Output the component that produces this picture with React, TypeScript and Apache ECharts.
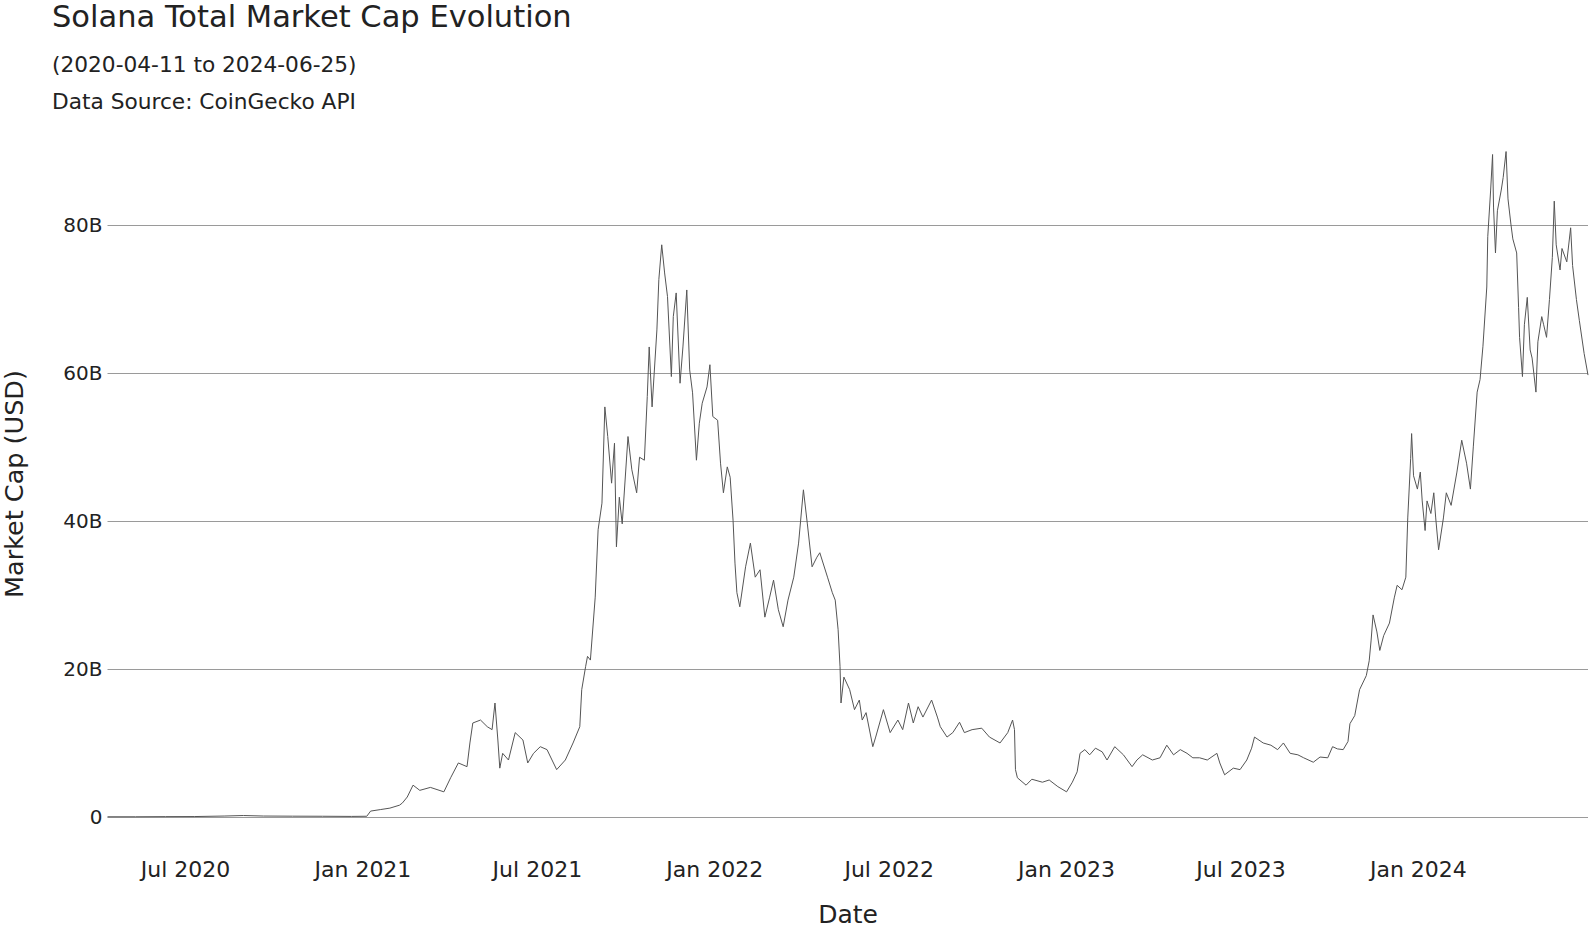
import React, { useEffect, useRef } from "react";
import * as echarts from "echarts";

const dates: string[] = [
  "2020-04-11","2020-05-10","2020-06-10","2020-07-10","2020-08-10","2020-08-30","2020-09-20","2020-10-20","2020-11-20","2020-12-20",
  "2021-01-05","2021-01-09","2021-01-19","2021-01-29","2021-02-08","2021-02-11","2021-02-16","2021-02-22","2021-03-01","2021-03-12",
  "2021-03-26","2021-04-02","2021-04-10","2021-04-19","2021-04-22","2021-04-25","2021-05-03","2021-05-10","2021-05-15","2021-05-18",
  "2021-05-21","2021-05-23","2021-05-26","2021-06-01","2021-06-08","2021-06-16","2021-06-21","2021-06-27","2021-07-04","2021-07-11",
  "2021-07-21","2021-07-30","2021-08-07","2021-08-14","2021-08-16","2021-08-20","2021-08-22","2021-08-25","2021-08-30","2021-09-02",
  "2021-09-06","2021-09-09","2021-09-12","2021-09-16","2021-09-19","2021-09-21","2021-09-24","2021-09-27","2021-10-03","2021-10-07",
  "2021-10-12","2021-10-15","2021-10-20","2021-10-23","2021-10-25","2021-10-28","2021-11-02","2021-11-04","2021-11-07","2021-11-10",
  "2021-11-13","2021-11-17","2021-11-19","2021-11-22","2021-11-26","2021-11-29","2021-12-03","2021-12-06","2021-12-09","2021-12-13",
  "2021-12-16","2021-12-19","2021-12-24","2021-12-27","2021-12-30","2022-01-04","2022-01-07","2022-01-10","2022-01-14","2022-01-17",
  "2022-01-20","2022-01-22","2022-01-24","2022-01-27","2022-02-02","2022-02-07","2022-02-12","2022-02-17","2022-02-22","2022-02-27",
  "2022-03-03","2022-03-08","2022-03-13","2022-03-18","2022-03-24","2022-03-29","2022-04-03","2022-04-07","2022-04-12","2022-04-17",
  "2022-04-20","2022-04-28","2022-05-03","2022-05-06","2022-05-09","2022-05-11","2022-05-12","2022-05-15","2022-05-21","2022-05-26",
  "2022-05-31","2022-06-03","2022-06-07","2022-06-14","2022-06-17","2022-06-25","2022-07-02","2022-07-10","2022-07-15","2022-07-21",
  "2022-07-26","2022-07-31","2022-08-05","2022-08-14","2022-08-20","2022-08-23","2022-08-30","2022-09-05","2022-09-12","2022-09-17",
  "2022-09-25","2022-10-05","2022-10-13","2022-10-24","2022-11-01","2022-11-06","2022-11-08","2022-11-09","2022-11-11","2022-11-20",
  "2022-11-26","2022-12-07","2022-12-14","2022-12-23","2023-01-01","2023-01-07","2023-01-12","2023-01-15","2023-01-20","2023-01-25",
  "2023-01-31","2023-02-07","2023-02-12","2023-02-20","2023-03-01","2023-03-10","2023-03-15","2023-03-21","2023-03-31","2023-04-08",
  "2023-04-15","2023-04-22","2023-04-29","2023-05-06","2023-05-12","2023-05-19","2023-05-27","2023-06-06","2023-06-09","2023-06-14",
  "2023-06-23","2023-06-30","2023-07-07","2023-07-12","2023-07-15","2023-07-24","2023-08-01","2023-08-08","2023-08-14","2023-08-21",
  "2023-08-29","2023-09-04","2023-09-14","2023-09-21","2023-09-29","2023-10-04","2023-10-09","2023-10-15","2023-10-20","2023-10-22",
  "2023-10-27","2023-11-01","2023-11-08","2023-11-11","2023-11-13","2023-11-15","2023-11-19","2023-11-22","2023-11-26","2023-12-02",
  "2023-12-07","2023-12-10","2023-12-15","2023-12-19","2023-12-21","2023-12-24","2023-12-25","2023-12-27","2023-12-31","2024-01-03",
  "2024-01-05","2024-01-08","2024-01-10","2024-01-14","2024-01-17","2024-01-19","2024-01-22","2024-01-27","2024-01-30","2024-02-04",
  "2024-02-10","2024-02-15","2024-02-20","2024-02-24","2024-02-27","2024-03-02","2024-03-05","2024-03-08","2024-03-12","2024-03-13",
  "2024-03-16","2024-03-18","2024-03-19","2024-03-21","2024-03-23","2024-03-27","2024-03-29","2024-04-01","2024-04-03","2024-04-06",
  "2024-04-08","2024-04-12","2024-04-14","2024-04-15","2024-04-18","2024-04-20","2024-04-23","2024-04-26","2024-04-28","2024-05-02",
  "2024-05-04","2024-05-08","2024-05-10","2024-05-13","2024-05-16","2024-05-19","2024-05-21","2024-05-23","2024-05-27","2024-05-29",
  "2024-06-03","2024-06-07","2024-06-09","2024-06-13","2024-06-16","2024-06-21","2024-06-25"
];

// Market cap in billions of USD
const marketCapB: number[] = [
  0.03,0.03,0.05,0.06,0.13,0.2,0.13,0.11,0.1,0.08,
  0.1,0.8,1.0,1.2,1.6,1.9,2.7,4.3,3.6,4.0,
  3.4,5.3,7.3,6.8,10.0,12.7,13.1,12.2,11.8,15.4,
  10.4,6.6,8.6,7.7,11.4,10.4,7.3,8.6,9.5,9.1,
  6.4,7.7,10.0,12.2,17.2,20.3,21.7,21.2,29.7,38.8,
  42.4,55.4,51.4,45.1,50.5,36.5,43.2,39.6,51.4,46.9,
  43.8,48.6,48.2,56.8,63.5,55.4,65.8,72.6,77.3,73.5,
  70.3,59.5,67.6,70.8,58.6,63.5,71.2,60.4,57.3,48.2,
  53.2,55.9,58.1,61.1,54.1,53.6,47.8,43.8,47.3,45.9,
  40.1,34.3,30.3,28.4,33.8,37.0,32.4,33.4,27.0,29.7,
  32.0,28.0,25.7,29.3,32.4,37.0,44.2,39.7,33.8,35.1,
  35.7,32.4,30.3,29.3,25.3,20.3,15.4,18.9,17.2,14.5,
  15.8,13.1,14.1,9.5,10.8,14.5,11.4,13.1,11.8,15.4,
  12.7,14.9,13.5,15.8,13.5,12.2,10.8,11.4,12.8,11.4,
  11.8,12.0,10.8,10.0,11.4,13.1,11.8,6.4,5.3,4.3,
  5.1,4.7,5.0,4.1,3.4,4.7,6.1,8.6,9.1,8.4,
  9.3,8.8,7.7,9.5,8.4,6.8,7.7,8.4,7.7,8.0,
  9.7,8.4,9.1,8.6,8.0,8.0,7.7,8.6,7.3,5.7,
  6.6,6.4,7.7,9.3,10.8,10.0,9.7,9.1,10.0,8.6,
  8.4,8.0,7.4,8.1,8.0,9.5,9.2,9.1,10.2,12.6,
  13.7,17.2,19.1,21.1,23.9,27.3,25.0,22.5,24.5,26.2,
  29.6,31.3,30.7,32.4,40.4,48.4,51.8,46.1,44.3,46.6,
  42.7,38.7,42.7,41.0,43.8,40.4,36.1,40.4,43.8,42.1,
  46.6,50.9,47.8,44.3,50.0,57.4,59.1,63.6,71.6,78.4,
  84.7,89.5,82.4,76.2,81.9,84.7,86.4,89.9,83.5,80.1,
  78.1,76.2,68.8,64.8,59.5,66.5,70.2,63.1,62.0,57.4,
  64.2,67.6,66.5,64.8,69.9,75.6,83.2,77.3,73.9,76.8,
  75.0,79.6,74.5,69.9,67.1,62.6,59.7
];

const tickDates: string[] = [
  "2020-07-01","2021-01-01","2021-07-01","2022-01-01",
  "2022-07-01","2023-01-01","2023-07-01","2024-01-01"
];
const tickLabels: string[] = [
  "Jul 2020","Jan 2021","Jul 2021","Jan 2022",
  "Jul 2022","Jan 2023","Jul 2023","Jan 2024"
];

const toTs = (s: string) => {
  const [y, m, d] = s.split("-").map(Number);
  return Date.UTC(y, m - 1, d);
};

const FONT = "'DejaVu Sans', Verdana, sans-serif";

export default function App() {
  const ref = useRef<HTMLDivElement>(null);
  useEffect(() => {
    if (!ref.current) return;
    const chart = echarts.init(ref.current, null, { renderer: "svg" });
    const data = dates.map((d, i) => [toTs(d), marketCapB[i] * 1e9]);
    const tickTs = tickDates.map(toTs);
    chart.setOption({
      animation: false,
      backgroundColor: "#ffffff",
      grid: { left: 107.5, right: 2, top: 136, bottom: 111 },
      xAxis: {
        type: "value",
        min: toTs(dates[0]),
        max: toTs(dates[dates.length - 1]),
        scale: true,
        axisLine: { show: false },
        axisTick: { show: false },
        splitLine: { show: false },
        axisLabel: {
          customValues: tickTs,
          margin: 41,
          fontFamily: FONT,
          fontSize: 22,
          color: "#222",
          formatter: (v: number) => {
            const i = tickTs.indexOf(v);
            return i >= 0 ? tickLabels[i] : "";
          },
        },
      },
      yAxis: {
        type: "value",
        min: 0,
        max: 92e9,
        interval: 20e9,
        axisLine: { show: false },
        axisTick: { show: false },
        splitLine: { show: true, showMaxLine: false, lineStyle: { color: "#9a9a9a", width: 1 } },
        axisLabel: {
          showMaxLabel: false,
          margin: 5,
          fontFamily: FONT,
          fontSize: 20,
          color: "#222",
          formatter: (v: number) => (v === 0 ? "0" : `${Math.round(v / 1e9)}B`),
        },
      },
      series: [
        {
          type: "line",
          data,
          showSymbol: false,
          symbol: "none",
          clip: false,
          lineStyle: { color: "#555", width: 1 },
        },
      ],
      graphic: [
        {
          type: "text",
          x: 52,
          y: 16.5,
          style: { text: "Solana Total Market Cap Evolution", font: `30.5px ${FONT}`, fill: "#222", textVerticalAlign: "middle" },
        },
        {
          type: "text",
          x: 52,
          y: 64,
          style: { text: "(2020-04-11 to 2024-06-25)", font: `21.7px ${FONT}`, fill: "#222", textVerticalAlign: "middle" },
        },
        {
          type: "text",
          x: 52,
          y: 101,
          style: { text: "Data Source: CoinGecko API", font: `21.7px ${FONT}`, fill: "#222", textVerticalAlign: "middle" },
        },
        {
          type: "text",
          x: 848,
          y: 914,
          style: { text: "Date", font: `25px ${FONT}`, fill: "#222", textAlign: "center", textVerticalAlign: "middle" },
        },
        {
          type: "text",
          x: 14,
          y: 484,
          rotation: Math.PI / 2,
          style: { text: "Market Cap (USD)", font: `25.5px ${FONT}`, fill: "#222", textAlign: "center", textVerticalAlign: "middle" },
        },
      ],
    });
    return () => chart.dispose();
  }, []);
  return <div ref={ref} style={{ position: "absolute", left: 0, top: 0, width: 1590, height: 928 }} />;
}
